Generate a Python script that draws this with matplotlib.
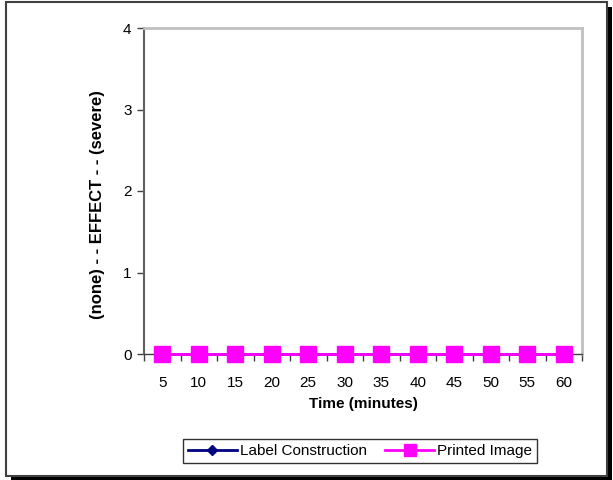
import numpy as np
from matplotlib import pyplot as plt
from matplotlib.patches import Rectangle

times = [5, 10, 15, 20, 25, 30, 35, 40, 45, 50, 55, 60]
label_construction = [0, 0, 0, 0, 0, 0, 0, 0, 0, 0, 0, 0]
printed_image = [0, 0, 0, 0, 0, 0, 0, 0, 0, 0, 0, 0]

plt.rcParams['font.family'] = ['Liberation Sans', 'DejaVu Sans']

W, H = 613, 480
fig = plt.figure(figsize=[W / 100, H / 100], dpi=100)

# outer chart frame with drop shadow
fig.patches.append(Rectangle((11 / W, 0), 601 / W, 473 / H, transform=fig.transFigure,
                             facecolor='black', edgecolor='none', zorder=0))
fig.patches.append(Rectangle((6 / W, 4 / H), 601 / W, 474 / H, transform=fig.transFigure,
                             facecolor='white', edgecolor='#404040', linewidth=1.5, zorder=1))

ax = fig.add_axes([144 / W, 1 - 354 / H, (582 - 144) / W, (354 - 28) / H])
ax.set_zorder(2)

x = np.arange(len(times))
ax.plot(x, label_construction, color='#000080', marker='D', markersize=7,
        linewidth=2, label='Label Construction', clip_on=False)
ax.plot(x, printed_image, color='#FF00FF', marker='s', markersize=11.5,
        linewidth=2, label='Printed Image', clip_on=False, zorder=3)

ax.set_xlim(-0.5, len(times) - 0.5)
ax.set_ylim(0, 4)
ax.set_yticks([0, 1, 2, 3, 4])
ax.set_xticks(x)
ax.set_xticklabels([str(t) for t in times])
ax.set_xticks(np.arange(-0.5, len(times)), minor=True)
ax.tick_params(axis='x', which='major', length=0, pad=16, labelsize=11)
ax.tick_params(axis='x', which='minor', length=5, width=1, color='#404040')
ax.tick_params(axis='y', length=5, width=1, color='#404040', labelsize=11, pad=4)

for side in ['top', 'right']:
    ax.spines[side].set_color('#c0c0c0')
    ax.spines[side].set_linewidth(2)
ax.spines['left'].set_color('#606060')
ax.spines['left'].set_linewidth(1.5)
ax.spines['bottom'].set_color('#404040')
ax.spines['bottom'].set_linewidth(1)

ax.set_xlabel('Time (minutes)', fontsize=11, fontweight='bold', labelpad=5)
ax.set_ylabel('(none) - - EFFECT - - (severe)', fontsize=12, fontweight='bold')
ax.yaxis.set_label_coords(-0.089, 0.457)

fig.legend(loc='center', bbox_to_anchor=(360 / W, 1 - 451 / H), ncol=2, fontsize=11,
           frameon=True, fancybox=False, edgecolor='black', handlelength=3.2,
           handletextpad=0.2, columnspacing=1.2, borderpad=0.35, markerscale=0.75)

fig.savefig('out.png', dpi=100)
